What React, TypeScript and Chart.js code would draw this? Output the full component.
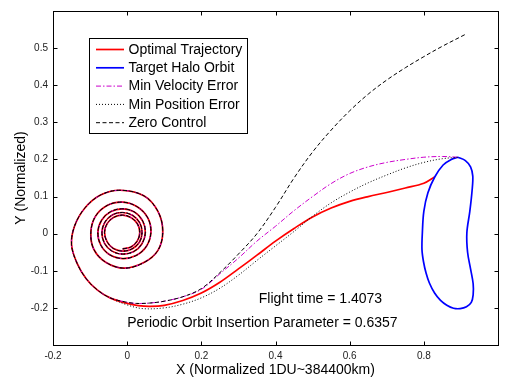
import React, { useEffect, useRef } from "react";
import { Chart, registerables } from "chart.js";

Chart.register(...registerables);

// ---- Data ----
// Shared Earth-spiral portion (counter-clockwise, outward)
const spiralX = [
  -0.012, 0.010, 0.027, 0.034, 0.028, 0.011, -0.012, -0.036, -0.054, -0.061, -0.054, -0.037,
  -0.012, 0.013, 0.033, 0.040, 0.034, 0.015, -0.012, -0.039, -0.060, -0.068, -0.061, -0.041,
  -0.012, 0.018, 0.040, 0.049, 0.042, 0.020, -0.012, -0.045, -0.069, -0.079, -0.071, -0.047,
  -0.012, 0.024, 0.052, 0.064, 0.056, 0.028, -0.012, -0.054, -0.086, -0.098, -0.090, -0.058,
  -0.008, 0.045, 0.083, 0.096, 0.083, 0.045, -0.019, -0.072, -0.115, -0.142, -0.150, -0.135, -0.110, -0.080, -0.046,
];
const spiralY = [
  -0.041, -0.036, -0.020, 0.003, 0.026, 0.043, 0.050, 0.044, 0.027, 0.003, -0.022, -0.040,
  -0.047, -0.041, -0.023, 0.003, 0.029, 0.049, 0.057, 0.051, 0.031, 0.003, -0.026, -0.047,
  -0.055, -0.048, -0.027, 0.003, 0.034, 0.058, 0.067, 0.059, 0.036, 0.003, -0.031, -0.057,
  -0.067, -0.059, -0.034, 0.003, 0.042, 0.072, 0.085, 0.076, 0.046, 0.003, -0.042, -0.077,
  -0.093, -0.078, -0.045, 0.006, 0.060, 0.102, 0.117, 0.104, 0.068, 0.020, -0.030, -0.080, -0.122, -0.152, -0.173,
];

// Transfer legs after the spiral
const optimalX = [0.0, 0.03, 0.062, 0.1, 0.15, 0.2, 0.25, 0.3, 0.35, 0.4, 0.45, 0.5, 0.55, 0.6, 0.65, 0.7, 0.75, 0.8, 0.829];
const optimalY = [-0.188, -0.194, -0.196, -0.193, -0.180, -0.160, -0.131, -0.095, -0.058, -0.020, 0.014, 0.045, 0.069, 0.087, 0.100, 0.111, 0.123, 0.136, 0.153];

const minVelX = [0.0, 0.026, 0.06, 0.1, 0.15, 0.2, 0.25, 0.3, 0.35, 0.4, 0.45, 0.5, 0.55, 0.6, 0.65, 0.7, 0.75, 0.8, 0.85, 0.892];
const minVelY = [-0.185, -0.188, -0.187, -0.182, -0.170, -0.150, -0.108, -0.066, -0.020, 0.020, 0.062, 0.100, 0.135, 0.162, 0.180, 0.192, 0.200, 0.206, 0.208, 0.206];

const minPosX = [0.0, 0.043, 0.1, 0.15, 0.2, 0.25, 0.3, 0.35, 0.4, 0.45, 0.5, 0.55, 0.6, 0.65, 0.7, 0.75, 0.8, 0.85, 0.895];
const minPosY = [-0.192, -0.202, -0.200, -0.190, -0.173, -0.147, -0.112, -0.072, -0.033, 0.006, 0.047, 0.083, 0.112, 0.137, 0.158, 0.177, 0.192, 0.202, 0.206];

const zeroX = [0.0, 0.026, 0.06, 0.1, 0.15, 0.2, 0.25, 0.3, 0.35, 0.4, 0.45, 0.5, 0.55, 0.6, 0.65, 0.7, 0.75, 0.8, 0.85, 0.914];
const zeroY = [-0.185, -0.188, -0.187, -0.182, -0.170, -0.148, -0.105, -0.055, 0.000, 0.071, 0.150, 0.220, 0.279, 0.331, 0.376, 0.414, 0.447, 0.477, 0.505, 0.538];

// Target halo orbit (closed loop)
const haloX = [0.892, 0.912, 0.926, 0.932, 0.930, 0.924, 0.916, 0.918, 0.926, 0.933, 0.933, 0.928, 0.915, 0.898, 0.880, 0.862, 0.845, 0.829, 0.815, 0.806, 0.799, 0.795, 0.796, 0.800, 0.811, 0.829, 0.852, 0.874, 0.892];
const haloY = [0.206, 0.197, 0.180, 0.155, 0.115, 0.060, 0.002, -0.050, -0.095, -0.135, -0.165, -0.185, -0.197, -0.202, -0.201, -0.193, -0.180, -0.160, -0.133, -0.106, -0.075, -0.043, 0.002, 0.060, 0.110, 0.152, 0.185, 0.200, 0.206];

const xTicks = [-0.2, 0, 0.2, 0.4, 0.6, 0.8, 1.0];
const yTicks = [-0.3, -0.2, -0.1, 0, 0.1, 0.2, 0.3, 0.4, 0.5, 0.6];
const xLimits = [-0.2, 1.0];
const yLimits = [-0.3, 0.6];

const legendLabels = ["Optimal Trajectory", "Target Halo Orbit", "Min Velocity Error", "Min Position Error", "Zero Control"];
const annotations = [
  { text: "Flight time = 1.4073", x: 0.355, y: -0.176 },
  { text: "Periodic Orbit Insertion Parameter = 0.6357", x: 0.0, y: -0.241 },
];
const xTitle = "X (Normalized 1DU~384400km)";
const yTitle = "Y (Normalized)";

// ---- Styles ----
const FONT = "'Liberation Sans', Arial, Helvetica, sans-serif";
const styles = [
  { color: "#ff0000", width: 1.7, dash: [] as number[] },
  { color: "#0000ff", width: 1.7, dash: [] as number[] },
  { color: "#cc00cc", width: 1, dash: [5, 2, 1.5, 2] },
  { color: "#000000", width: 1, dash: [1, 2] },
  { color: "#000000", width: 1, dash: [4, 2.5] },
];

const pts = (xs: number[], ys: number[]) => xs.map((x, i) => ({ x, y: ys[i] }));

const fmt = (v: number) => {
  const r = Math.round(v * 10) / 10;
  return r === 0 ? "0" : String(r);
};

const matlabPlugin = {
  id: "matlabDecor",
  afterDraw(chart: any) {
    const { ctx, chartArea: a, scales } = chart;
    const xs = scales.x;
    const ys = scales.y;
    ctx.save();
    // Frame
    ctx.strokeStyle = "#000";
    ctx.lineWidth = 1;
    ctx.setLineDash([]);
    const L = Math.round(a.left) + 0.5;
    const R = Math.round(a.right) + 0.5;
    const T = Math.round(a.top) + 0.5;
    const B = Math.round(a.bottom) + 0.5;
    ctx.strokeRect(L, T, R - L, B - T);
    // Inward tick marks on all four sides
    const tl = 4;
    ctx.beginPath();
    xTicks.forEach((v) => {
      const px = Math.round(xs.getPixelForValue(v)) + 0.5;
      ctx.moveTo(px, B);
      ctx.lineTo(px, B - tl);
      ctx.moveTo(px, T);
      ctx.lineTo(px, T + tl);
    });
    yTicks.forEach((v) => {
      const py = Math.round(ys.getPixelForValue(v)) + 0.5;
      ctx.moveTo(L, py);
      ctx.lineTo(L + tl, py);
      ctx.moveTo(R, py);
      ctx.lineTo(R - tl, py);
    });
    ctx.stroke();

    // Axis titles
    ctx.fillStyle = "#000";
    ctx.font = `14px ${FONT}`;
    ctx.textAlign = "center";
    ctx.textBaseline = "middle";
    ctx.fillText(xTitle, (a.left + a.right) / 2, 370);
    ctx.save();
    ctx.translate(21.5, (a.top + a.bottom) / 2);
    ctx.rotate(-Math.PI / 2);
    ctx.fillText(yTitle, 0, 0);
    ctx.restore();

    // Text annotations (data coordinates)
    ctx.textAlign = "left";
    annotations.forEach((an) => {
      ctx.fillText(an.text, xs.getPixelForValue(an.x), ys.getPixelForValue(an.y));
    });

    // Legend box
    const lx = 89.5, ly = 38.5, lw = 158, lh = 95;
    ctx.fillStyle = "#fff";
    ctx.fillRect(lx, ly, lw, lh);
    ctx.strokeStyle = "#000";
    ctx.lineWidth = 1;
    ctx.strokeRect(lx, ly, lw, lh);
    legendLabels.forEach((lab, i) => {
      const cy = 49.5 + i * 18.3;
      const s = styles[i];
      ctx.beginPath();
      ctx.strokeStyle = s.color;
      ctx.lineWidth = s.width;
      ctx.setLineDash(s.dash);
      ctx.moveTo(96, cy);
      ctx.lineTo(124, cy);
      ctx.stroke();
      ctx.setLineDash([]);
      ctx.fillStyle = "#000";
      ctx.textAlign = "left";
      ctx.textBaseline = "middle";
      ctx.fillText(lab, 128.5, cy + 0.5);
    });
    ctx.restore();
  },
};

export default function App() {
  const ref = useRef<HTMLCanvasElement | null>(null);

  useEffect(() => {
    if (!ref.current) return;
    const spiral = pts(spiralX, spiralY);
    const series = [
      { label: legendLabels[0], data: [...spiral, ...pts(optimalX, optimalY)], order: 5 },
      { label: legendLabels[1], data: pts(haloX, haloY), order: 4 },
      { label: legendLabels[2], data: [...spiral, ...pts(minVelX, minVelY)], order: 3 },
      { label: legendLabels[3], data: [...spiral, ...pts(minPosX, minPosY)], order: 2 },
      { label: legendLabels[4], data: [...spiral, ...pts(zeroX, zeroY)], order: 1 },
    ];
    const chart = new Chart(ref.current, {
      type: "scatter",
      data: {
        datasets: series.map((s, i) => ({
          label: s.label,
          data: s.data,
          order: s.order,
          showLine: true,
          borderColor: styles[i].color,
          backgroundColor: styles[i].color,
          borderWidth: styles[i].width,
          borderDash: styles[i].dash,
          pointRadius: 0,
          pointHoverRadius: 0,
          tension: 0.35,
          fill: false,
          clip: false as any,
        })),
      },
      options: {
        responsive: false,
        animation: false,
        events: [],
        layout: { padding: { top: 11, right: 14, left: 0, bottom: 0 } },
        plugins: {
          legend: { display: false },
          tooltip: { enabled: false },
        },
        scales: {
          x: {
            type: "linear",
            min: xLimits[0],
            max: xLimits[1],
            afterFit: (s: any) => {
              s.height = 42;
            },
            afterBuildTicks: (s: any) => {
              s.ticks = xTicks.map((v) => ({ value: v }));
            },
            grid: { display: false, drawTicks: false },
            border: { display: false },
            ticks: {
              padding: 5,
              maxRotation: 0,
              autoSkip: false,
              color: "#222",
              font: { family: FONT, size: 10 },
              callback: (v: any) => (Math.abs(v - xLimits[1]) < 1e-9 ? "" : fmt(Number(v))),
            },
          },
          y: {
            type: "linear",
            min: yLimits[0],
            max: yLimits[1],
            afterFit: (s: any) => {
              s.width = 53;
            },
            afterBuildTicks: (s: any) => {
              s.ticks = yTicks.map((v) => ({ value: v }));
            },
            grid: { display: false, drawTicks: false },
            border: { display: false },
            ticks: {
              padding: 5,
              autoSkip: false,
              color: "#222",
              font: { family: FONT, size: 10 },
              callback: (v: any) =>
                Math.abs(v - yLimits[0]) < 1e-9 || Math.abs(v - yLimits[1]) < 1e-9 ? "" : fmt(Number(v)),
            },
          },
        },
      },
      plugins: [matlabPlugin],
    } as any);
    return () => chart.destroy();
  }, []);

  return (
    <div style={{ position: "absolute", left: 0, top: 0, width: 512, height: 387, background: "#fff" }}>
      <canvas ref={ref} width={512} height={387} style={{ display: "block", width: 512, height: 387 }} />
    </div>
  );
}
